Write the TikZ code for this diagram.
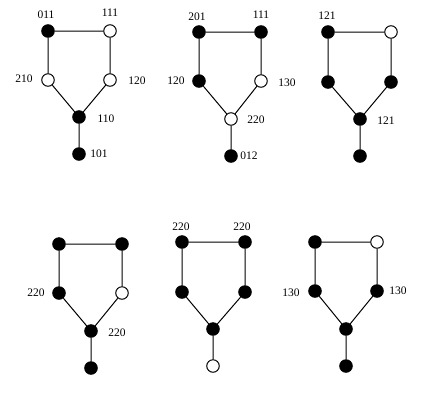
\documentclass[tikz,border=0pt]{standalone}
\usepackage{fontspec}
\setmainfont{Liberation Serif}
\usepackage{tikz}

\begin{document}
\begin{tikzpicture}[x=1pt,y=-1pt,line width=1pt,
    bv/.style={circle,draw,fill=black,inner sep=0pt,minimum size=12.5pt},
    wv/.style={circle,draw,fill=white,inner sep=0pt,minimum size=12.5pt},
    lab/.style={font=\fontsize{11.5}{13}\selectfont,inner sep=0pt}]
                \useasboundingbox (0,0) rectangle (423,392);
				% first row
				\node[bv] (tlA) at (48,31){};
				\node[wv] (trA) at (110,31){};
				\node[wv] (mlA) at (48,80){};
				\node[wv] (mrA) at (110,80){};
				\node[bv] (boA) at (79,117){};
				\node[bv] (peA) at (79,154){};
				\draw (tlA)--(trA) (tlA)--(mlA) (trA)--(mrA) (mlA)--(boA) (mrA)--(boA) (boA)--(peA);
				\node[bv] (tlB) at (199,32){};
				\node[bv] (trB) at (261,32){};
				\node[bv] (mlB) at (199,81){};
				\node[wv] (mrB) at (261,81){};
				\node[wv] (boB) at (231,119){};
				\node[bv] (peB) at (231,156){};
				\draw (tlB)--(trB) (tlB)--(mlB) (trB)--(mrB) (mlB)--(boB) (mrB)--(boB) (boB)--(peB);
				\node[bv] (tlC) at (328,32){};
				\node[wv] (trC) at (391,32){};
				\node[bv] (mlC) at (328,82){};
				\node[bv] (mrC) at (391,82){};
				\node[bv] (boC) at (360,119){};
				\node[bv] (peC) at (360,156){};
				\draw (tlC)--(trC) (tlC)--(mlC) (trC)--(mrC) (mlC)--(boC) (mrC)--(boC) (boC)--(peC);
				% second row
				\node[bv] (tlD) at (59,244){};
				\node[bv] (trD) at (122,244){};
				\node[bv] (mlD) at (59,293){};
				\node[wv] (mrD) at (122,293){};
				\node[bv] (boD) at (91,331){};
				\node[bv] (peD) at (91,368){};
				\draw (tlD)--(trD) (tlD)--(mlD) (trD)--(mrD) (mlD)--(boD) (mrD)--(boD) (boD)--(peD);
				\node[bv] (tlE) at (182,242){};
				\node[bv] (trE) at (245,242){};
				\node[bv] (mlE) at (182,292){};
				\node[bv] (mrE) at (245,292){};
				\node[bv] (boE) at (213,329){};
				\node[wv] (peE) at (213,366){};
				\draw (tlE)--(trE) (tlE)--(mlE) (trE)--(mrE) (mlE)--(boE) (mrE)--(boE) (boE)--(peE);
				\node[bv] (tlF) at (315,242){};
				\node[wv] (trF) at (377,242){};
				\node[bv] (mlF) at (315,291){};
				\node[bv] (mrF) at (377,291){};
				\node[bv] (boF) at (346,329){};
				\node[bv] (peF) at (346,366){};
				\draw (tlF)--(trF) (tlF)--(mlF) (trF)--(mrF) (mlF)--(boF) (mrF)--(boF) (boF)--(peF);
				% labels
				\node[lab] (lA1) at (46,15){011};
				\node[lab] (lA2) at (110,13){111};
				\node[lab] (lA3) at (24,79){210};
				\node[lab] (lA4) at (137,81){120};
				\node[lab] (lA5) at (106,119){110};
				\node[lab] (lA6) at (99,154){101};
				\node[lab] (lB1) at (197,17){201};
				\node[lab] (lB2) at (261,15){111};
				\node[lab] (lB3) at (176,81){120};
				\node[lab] (lB4) at (287,83){130};
				\node[lab] (lB5) at (256,120){220};
				\node[lab] (lB6) at (249,156){012};
				\node[lab] (lC1) at (327,16){121};
				\node[lab] (lC2) at (386,121){121};
				\node[lab] (lD1) at (36,293){220};
				\node[lab] (lD2) at (117,333){220};
				\node[lab] (lE1) at (181,227){220};
				\node[lab] (lE2) at (242,227){220};
				\node[lab] (lF1) at (291,293){130};
				\node[lab] (lF2) at (398,291){130};
			\end{tikzpicture}
\end{document}
